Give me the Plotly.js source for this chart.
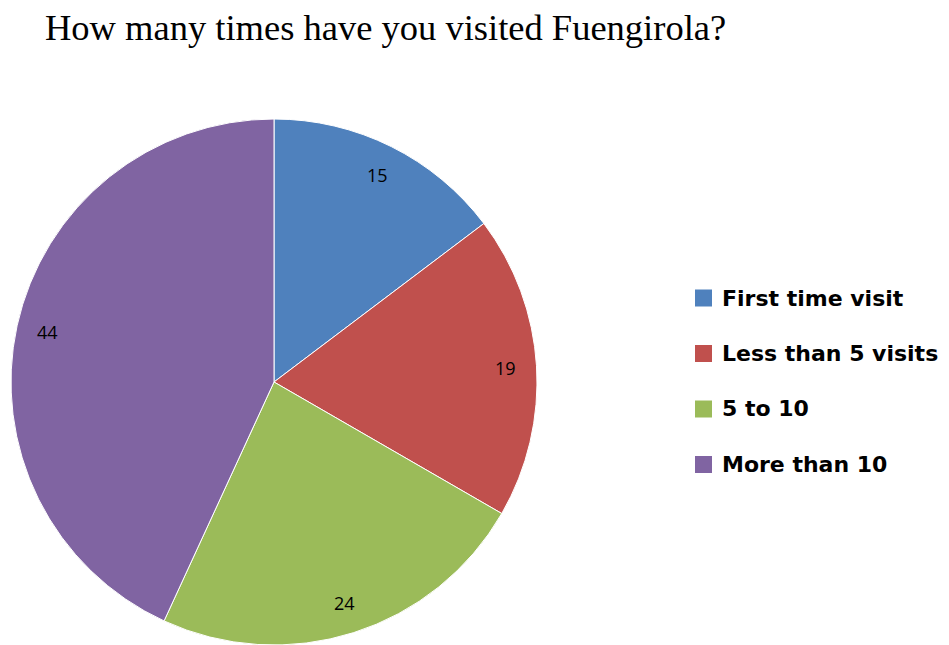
<!DOCTYPE html>
<html><head><meta charset="utf-8">
<script src="https://cdn.plot.ly/plotly-3.0.1.min.js"></script>
<style>html,body{margin:0;padding:0;background:#fff}</style>
</head><body>
<div id="chart" style="width:949px;height:645px"></div>
<script>
const categories = ["First time visit", "Less than 5 visits", "5 to 10", "More than 10"];
const values = [15, 19, 24, 44];
const colors = ["#4F81BD", "#C0504D", "#9BBB59", "#8064A2"];
const chartTitle = "How many times have you visited Fuengirola?";

const dom = {x: [11/949, 537/949], y: [0, 1 - 119/645]};
const trace = {
  type: "pie",
  labels: categories,
  values: values,
  sort: false,
  direction: "clockwise",
  rotation: 0,
  marker: {colors: colors, line: {color: "#ffffff", width: 1}},
  textinfo: "none",
  domain: dom,
  showlegend: false,
  hoverinfo: "label+value"
};

const shapes = [];
const annotations = [{
  text: chartTitle, xref: "paper", yref: "paper", x: 43/949, y: 1 - 28/645,
  xanchor: "left", yanchor: "middle", showarrow: false,
  font: {family: "'Liberation Serif', 'Times New Roman', serif", size: 36.5, color: "#000"}
}];

// value labels placed along each slice's mid-angle (derived from data)
const W = 949, H = 645;
const cx = (dom.x[0] + dom.x[1]) / 2, cy = (dom.y[0] + dom.y[1]) / 2;
const Rpx = Math.min((dom.x[1] - dom.x[0]) * W, (dom.y[1] - dom.y[0]) * H) / 2;
const total = values.reduce((a, b) => a + b, 0);
let cum = 0;
values.forEach((v) => {
  const mid = (cum + v / 2) / total * 2 * Math.PI;
  cum += v;
  const r = 0.88 * Rpx;
  annotations.push({text: String(v), xref: "paper", yref: "paper",
    x: cx + r * Math.sin(mid) / W, y: cy + r * Math.cos(mid) / H,
    xanchor: "center", yanchor: "middle", showarrow: false,
    font: {family: "'Open Sans', sans-serif", size: 18, color: "#000"}});
});

const legTop = 298, legGap = 55.5;
categories.forEach((c, i) => {
  const yc = legTop + i * legGap;
  shapes.push({type: "rect", xref: "paper", yref: "paper",
    x0: 695/949, x1: 712/949, y0: 1 - (yc + 8.5)/645, y1: 1 - (yc - 8.5)/645,
    fillcolor: colors[i], line: {width: 0}});
  annotations.push({text: "<b>" + c + "</b>", xref: "paper", yref: "paper",
    x: 720/949, y: 1 - yc/645, xanchor: "left", yanchor: "middle", showarrow: false,
    font: {family: "'DejaVu Sans', sans-serif", size: 22, color: "#000"}});
});

Plotly.newPlot("chart", [trace], {
  width: 949, height: 645,
  margin: {l: 0, r: 0, t: 0, b: 0},
  paper_bgcolor: "#fff",
  showlegend: false,
  shapes: shapes,
  annotations: annotations
}, {displayModeBar: false, staticPlot: true});
</script>
</body></html>
